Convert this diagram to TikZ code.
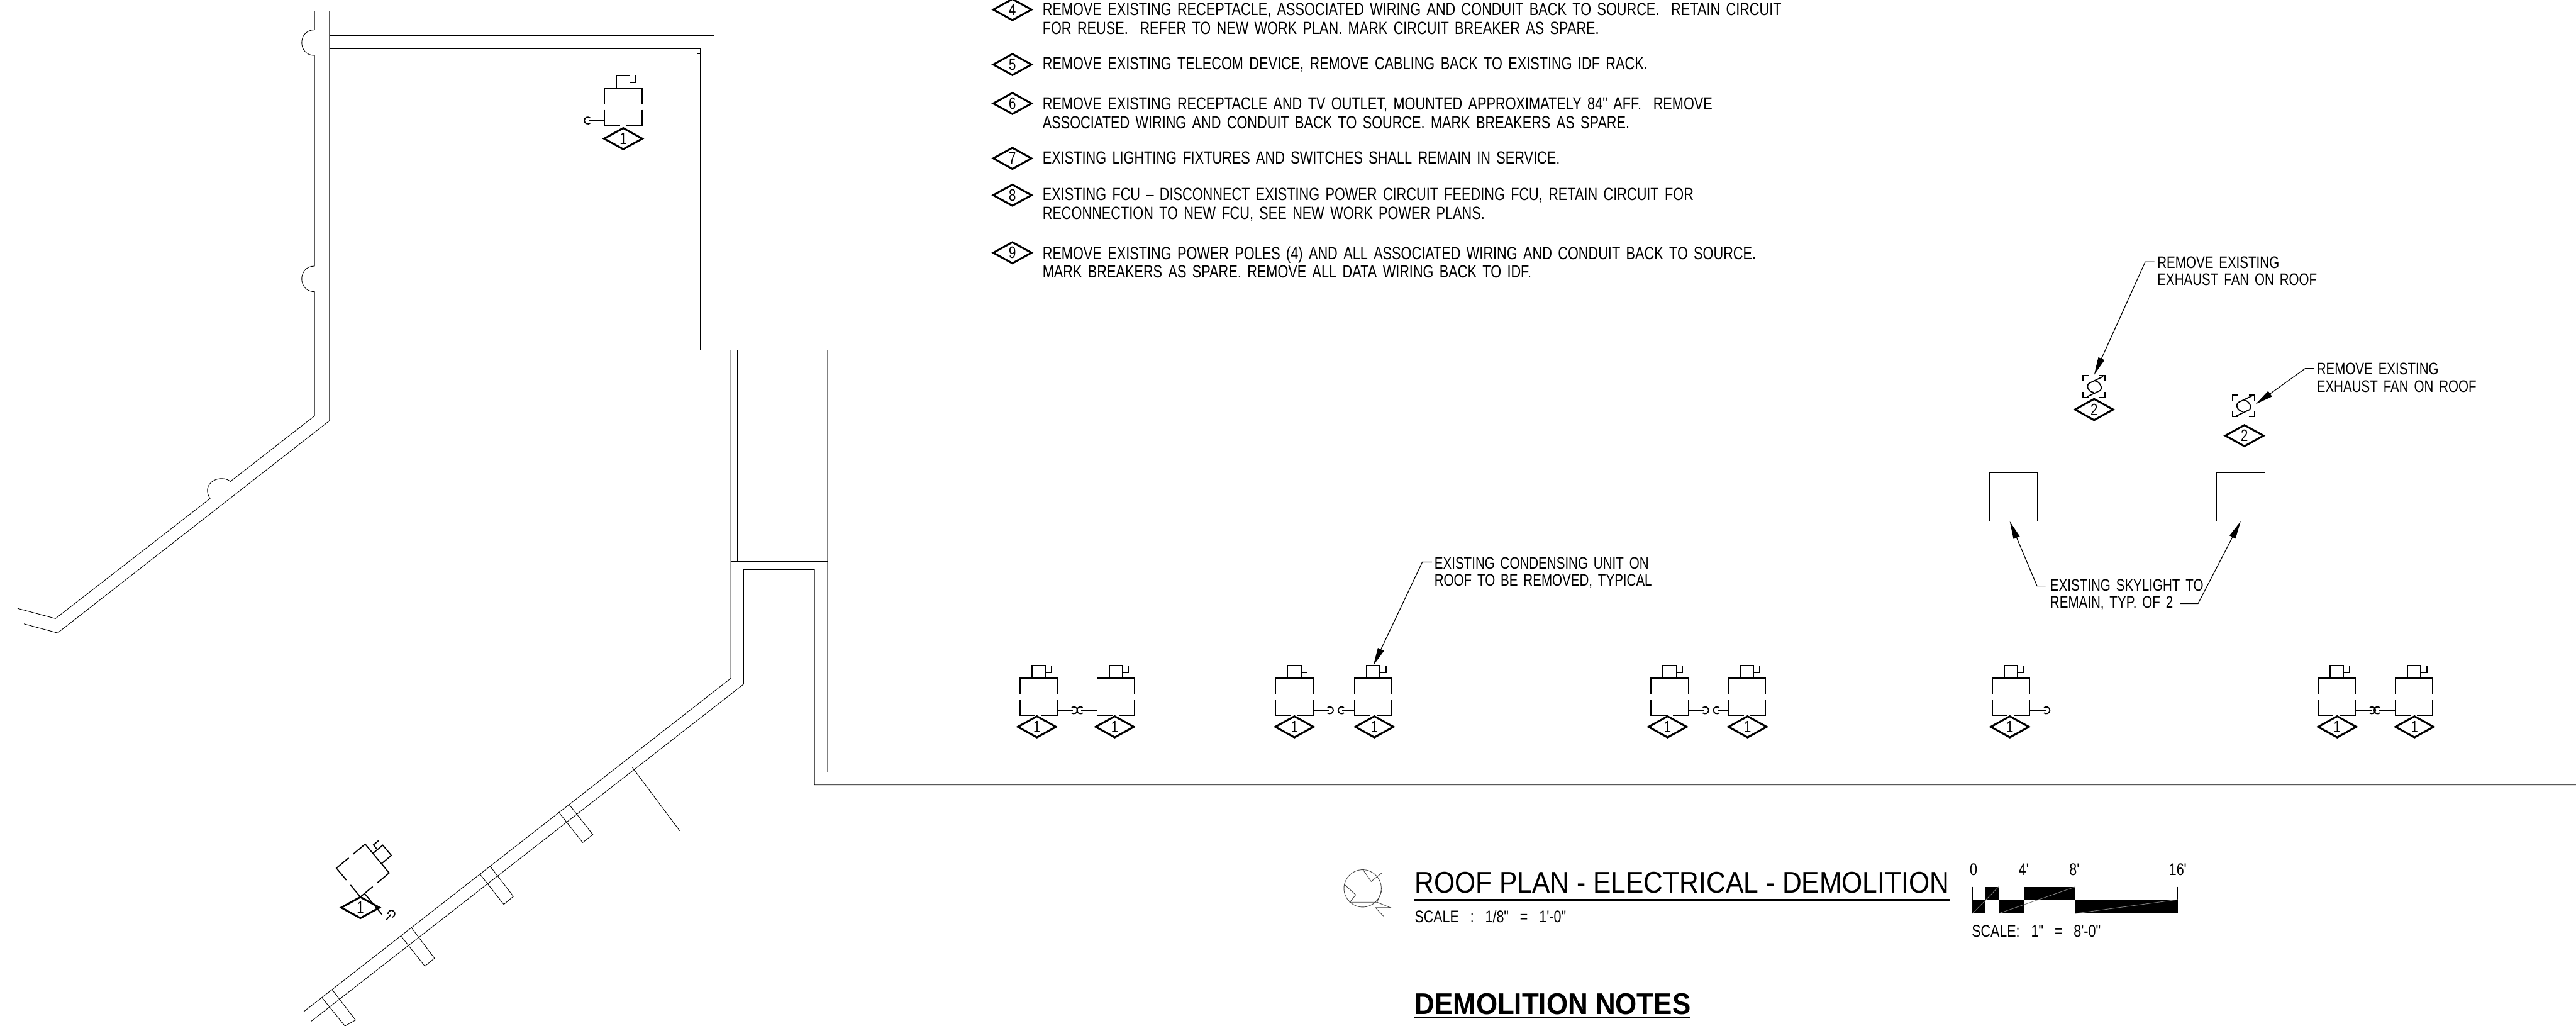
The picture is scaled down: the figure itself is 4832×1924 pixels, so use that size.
\documentclass[tikz,border=0pt]{standalone}
\usepackage{fontspec}
\usetikzlibrary{shapes.geometric,arrows.meta}
\newfontfamily\cadfont[FakeStretch=0.775,WordSpace=1.55]{Liberation Sans}
\newfontfamily\titfont[FakeStretch=0.893]{Liberation Sans}
\newfontfamily\notfont[FakeStretch=0.92]{Liberation Sans}
\newfontfamily\escfont[FakeStretch=0.8,WordSpace=3]{Liberation Sans}
\tikzset{
  muro/.style={line width=0.3pt},
  murogris/.style={line width=0.5pt, gray},
  simbolo/.style={line width=0.6pt},
  marca/.style={diamond, draw, line width=1pt, inner sep=0pt, minimum width=0.73cm, minimum height=0.41cm, font=\cadfont\fontsize{8.8}{9}\selectfont},
  nota/.style={anchor=west, inner sep=0pt, align=left, font=\cadfont\fontsize{9.4}{9.9}\selectfont},
  rotulo/.style={anchor=west, inner sep=0pt, align=left, font=\cadfont\fontsize{8.9}{9.2}\selectfont},
  escala/.style={inner sep=0pt, font=\escfont\fontsize{9}{10}\selectfont},
  flecha/.style={line width=0.4pt, -{Triangle[length=9.5pt,width=3.5pt]}},
  pics/unidad/.style={code={
    \draw[simbolo] (-35,29) -- (-35,0) -- (35,0) -- (35,29);
    \draw[simbolo] (-35,40) -- (-35,70) -- (-6,70);
    \draw[simbolo] (35,40) -- (35,70) -- (6,70);
    \draw[simbolo] (-12.5,0) -- (-12.5,-24) -- (12.5,-24) -- (12.5,0);
    \draw[simbolo] (12.5,-11) -- (24,-11) -- (24,-24);
    \coordinate (-tope) at (0,-24);
  }},
  pics/toma/.style={code={
    \draw[simbolo] (0,0) -- (#1,0);
    \draw[simbolo] (#1-3,-5) .. controls (#1+1,-8) and (#1+8,-6) .. (#1+8,0) .. controls (#1+8,6) and (#1+1,8) .. (#1-3,5);
  }},
  pics/ventilador/.style={code={
    \foreach \sx/\sy in {1/1,-1/1,1/-1,-1/-1}
      \draw[simbolo, xscale=\sx, yscale=\sy] (10,-20.5) -- (20.5,-20.5) -- (20.5,-10);
    \draw[simbolo] (17,-19) -- (-8,-7) .. controls (-16,-3) and (-12,9) .. (-1,11);
    \draw[simbolo] (-13,19) -- (12,7) .. controls (16,3) and (12,-9) .. (1,-11);
  }}
}
\begin{document}
\begin{tikzpicture}[x=0.01cm, y=-0.01cm]
  \useasboundingbox (0,0) rectangle (4832,1924);

  % Muros de la izquierda
  \draw[muro] (590,21) -- (590,56) .. controls (558,56) and (558,104) .. (590,104)
    -- (590,499) .. controls (558,499) and (558,547) .. (590,547)
    -- (590,780) -- (432,903) .. controls (415,888) and (375,905) .. (394,935)
    -- (104,1160) -- (33,1141);
  \draw[muro] (618,21) -- (618,789) -- (108,1187) -- (45,1170);
  \draw[murogris] (857,21) -- (857,67);

  % Muros de arriba
  \draw[muro] (618,67) -- (1339,67) -- (1339,632) -- (4832,632);
  \draw[muro] (618,91) -- (1314,91) -- (1314,656) -- (4832,656);
  \draw[muro] (1308,91) -- (1308,101) -- (1314,101);

  % Muros del centro
  \draw[muro] (1371,656) -- (1371,1272) -- (570,1897);
  \draw[muro] (1383,656) -- (1383,1053);
  \draw[murogris] (1540,656) -- (1540,1053);
  \draw[murogris] (1552,656) -- (1552,1448);
  \draw[muro] (1552,1448) -- (4832,1448);
  \draw[muro] (1371,1053) -- (1552,1053);
  \draw[muro] (584,1915) -- (1395,1283) -- (1395,1068) -- (1528,1068) -- (1528,1472) -- (4832,1472);
  \draw[muro] (1186,1439) -- (1275,1558);

  % Pilares del muro inclinado
  \foreach \ax/\ay/\bx/\by/\cx/\cy/\dx/\dy in {1048/1523/1093/1580/1112/1565/1067/1508,
      900/1639/945/1696/963/1681/919/1624,
      752/1755/797/1812/815/1797/772/1740,
      604/1871/647/1924/667/1913/623/1856}
    \draw[muro] (\ax,\ay) -- (\bx,\by) -- (\cx,\cy) -- (\dx,\dy);

  % Unidades de condensacion
  \foreach \n/\x/\y/\dm/\s/\l in {A/1948/1272/1945/1/30, B/2093/1272/2091/-1/30,
      C/2428/1272/2428/1/30, D/2576/1272/2578/-1/23,
      E/3132/1272/3128/1/30, F/3277/1272/3278/-1/20, G/3772/1272/3770/1/30,
      H/4383/1272/4384/1/30, I/4528/1272/4529/-1/32} {
    \pic (u\n) at (\x,\y) {unidad};
    \pic[xscale=\s] at (\x+\s*35,\y+60) {toma=\l};
    \node[marca] (m\n) at (\dm,1363) {1};
  }
  \pic (uJ) at (1169,166) {unidad};
  \pic[xscale=-1] at (1134,226) {toma=30};
  \node[marca] (mJ) at (1169,260) {1};

  % Unidad girada
  \begin{scope}[shift={(707.5,1610)}, x={(-0.00643cm,0.00771cm)}, y={(-0.00771cm,-0.00643cm)}]
    \pic (uK) at (0,0) {unidad};
    \draw[simbolo] (-35,60) -- (-86,60);
    \pic[xscale=-1] at (-99,60) {toma=13};
  \end{scope}
  \node[marca] (mK) at (676,1702) {1};

  % Ventiladores y tragaluces
  \pic (fanA) at (3928,725) {ventilador};
  \pic (fanB) at (4208,761) {ventilador};
  \node[marca] (mL) at (3928,768) {2};
  \node[marca] (mM) at (4210,817) {2};
  \node[draw, line width=0.3pt, inner sep=0pt, minimum width=0.9cm, minimum height=0.9cm] (luzA) at (3777,932) {};
  \node[draw, line width=0.3pt, inner sep=0pt, minimum width=0.9cm, minimum height=0.9cm] (luzB) at (4203,932) {};

  % Rotulos
  \node[rotulo] (txtA) at (4046,508) {REMOVE EXISTING\\EXHAUST FAN ON ROOF};
  \node[rotulo] (txtB) at (4345,708) {REMOVE EXISTING\\EXHAUST FAN ON ROOF};
  \node[rotulo] (txtC) at (3845,1115) {EXISTING SKYLIGHT TO\\REMAIN, TYP. OF 2};
  \node[rotulo] (txtD) at (2690,1074) {EXISTING CONDENSING UNIT ON\\ROOF TO BE REMOVED, TYPICAL};

  % Flechas
  \coordinate (iniA) at (4041,491);
  \coordinate (codoA) at (4024,491);
  \coordinate (puntaA) at (3928,703);
  \coordinate (iniB) at (4340,691);
  \coordinate (codoB) at (4324,691);
  \coordinate (puntaB) at (4231,758);
  \coordinate (iniC) at (3837,1099);
  \coordinate (codoC) at (3821,1099);
  \coordinate (iniD) at (4090,1132);
  \coordinate (codoD) at (4123,1132);
  \coordinate (iniE) at (2686,1054);
  \coordinate (codoE) at (2668,1054);
  \draw[flecha] (iniA) -- (codoA) -- (puntaA);
  \draw[flecha] (iniB) -- (codoB) -- (puntaB);
  \draw[flecha] (iniC) -- (codoC) -- (luzA.261);
  \draw[flecha] (iniD) -- (codoD) -- (luzB.south);
  \draw[flecha] (iniE) -- (codoE) -- (uD-tope);

  % Notas
  \foreach \n/\y in {4/18,5/121,6/194,7/297,8/366,9/474}
    \node[marca] (nota\n) at (1899,\y) {\n};
  \node[nota] (txt4) at (1955,35) {REMOVE EXISTING RECEPTACLE, ASSOCIATED WIRING AND CONDUIT BACK TO SOURCE.\ \ RETAIN CIRCUIT\\FOR REUSE.\ \ REFER TO NEW WORK PLAN. MARK CIRCUIT BREAKER AS SPARE.};
  \node[nota] (txt5) at (1955,121) {REMOVE EXISTING TELECOM DEVICE, REMOVE CABLING BACK TO EXISTING IDF RACK.};
  \node[nota] (txt6) at (1955,212) {REMOVE EXISTING RECEPTACLE AND TV OUTLET, MOUNTED APPROXIMATELY 84" AFF.\ \ REMOVE\\ASSOCIATED WIRING AND CONDUIT BACK TO SOURCE. MARK BREAKERS AS SPARE.};
  \node[nota] (txt7) at (1955,296) {EXISTING LIGHTING FIXTURES AND SWITCHES SHALL REMAIN IN SERVICE.};
  \node[nota] (txt8) at (1955,384) {EXISTING FCU – DISCONNECT EXISTING POWER CIRCUIT FEEDING FCU, RETAIN CIRCUIT FOR\\RECONNECTION TO NEW FCU, SEE NEW WORK POWER PLANS.};
  \node[nota] (txt9) at (1955,492) {REMOVE EXISTING POWER POLES (4) AND ALL ASSOCIATED WIRING AND CONDUIT BACK TO SOURCE.\\MARK BREAKERS AS SPARE. REMOVE ALL DATA WIRING BACK TO IDF.};

  % Titulo
  \draw[muro, darkgray] (2556,1666) circle (35);
  \draw[muro, darkgray] (2556,1630) -- (2572,1653) -- (2592,1637);
  \draw[muro, darkgray] (2521,1658) -- (2543,1678) -- (2532,1692) -- (2583,1692) -- (2592,1670);
  \draw[muro, darkgray] (2583,1692) -- (2608,1702) -- (2580,1702) -- (2595,1718);
  \node[anchor=base west, inner sep=0pt, font=\titfont\fontsize{16}{18}\selectfont] (titulo) at (2653,1675) {ROOF PLAN - ELECTRICAL - DEMOLITION};
  \draw[line width=1pt] (2652,1688) -- (3657,1688);
  \node[escala, anchor=base west] (escalaA) at (2653,1730) {SCALE\ : 1/8" = 1'-0"};
  \node[anchor=base west, inner sep=0pt, font=\notfont\bfseries\fontsize{16}{18}\selectfont] (notas) at (2653,1902) {DEMOLITION NOTES};
  \draw[line width=1pt] (2652,1908) -- (3171,1908);

  % Escala grafica
  \foreach \xa/\xb in {3724/3749,3797/3893}
    \fill (\xa,1663) rectangle (\xb,1687);
  \foreach \xa/\xb in {3700/3724,3749/3797,3893/4085}
    \fill (\xa,1687) rectangle (\xb,1713);
  \draw[muro] (3700,1663) -- (3700,1687);
  \draw[muro] (4085,1663) -- (4085,1687);
  \draw[muro] (3724,1687) -- (4085,1687);
  \draw[muro, gray] (3700,1713) -- (3749,1663);
  \draw[muro, gray] (3749,1713) -- (3893,1663);
  \draw[muro, gray] (3893,1713) -- (4085,1687);
  \foreach \n/\x/\t in {a/3702/0,b/3796/4',c/3891/8',d/4085/16'}
    \node[escala, anchor=base] (esc\n) at (\x,1642) {\t};
  \node[escala, anchor=base west] (escalaB) at (3698,1757) {SCALE: 1" = 8'-0"};
\end{tikzpicture}
\end{document}
